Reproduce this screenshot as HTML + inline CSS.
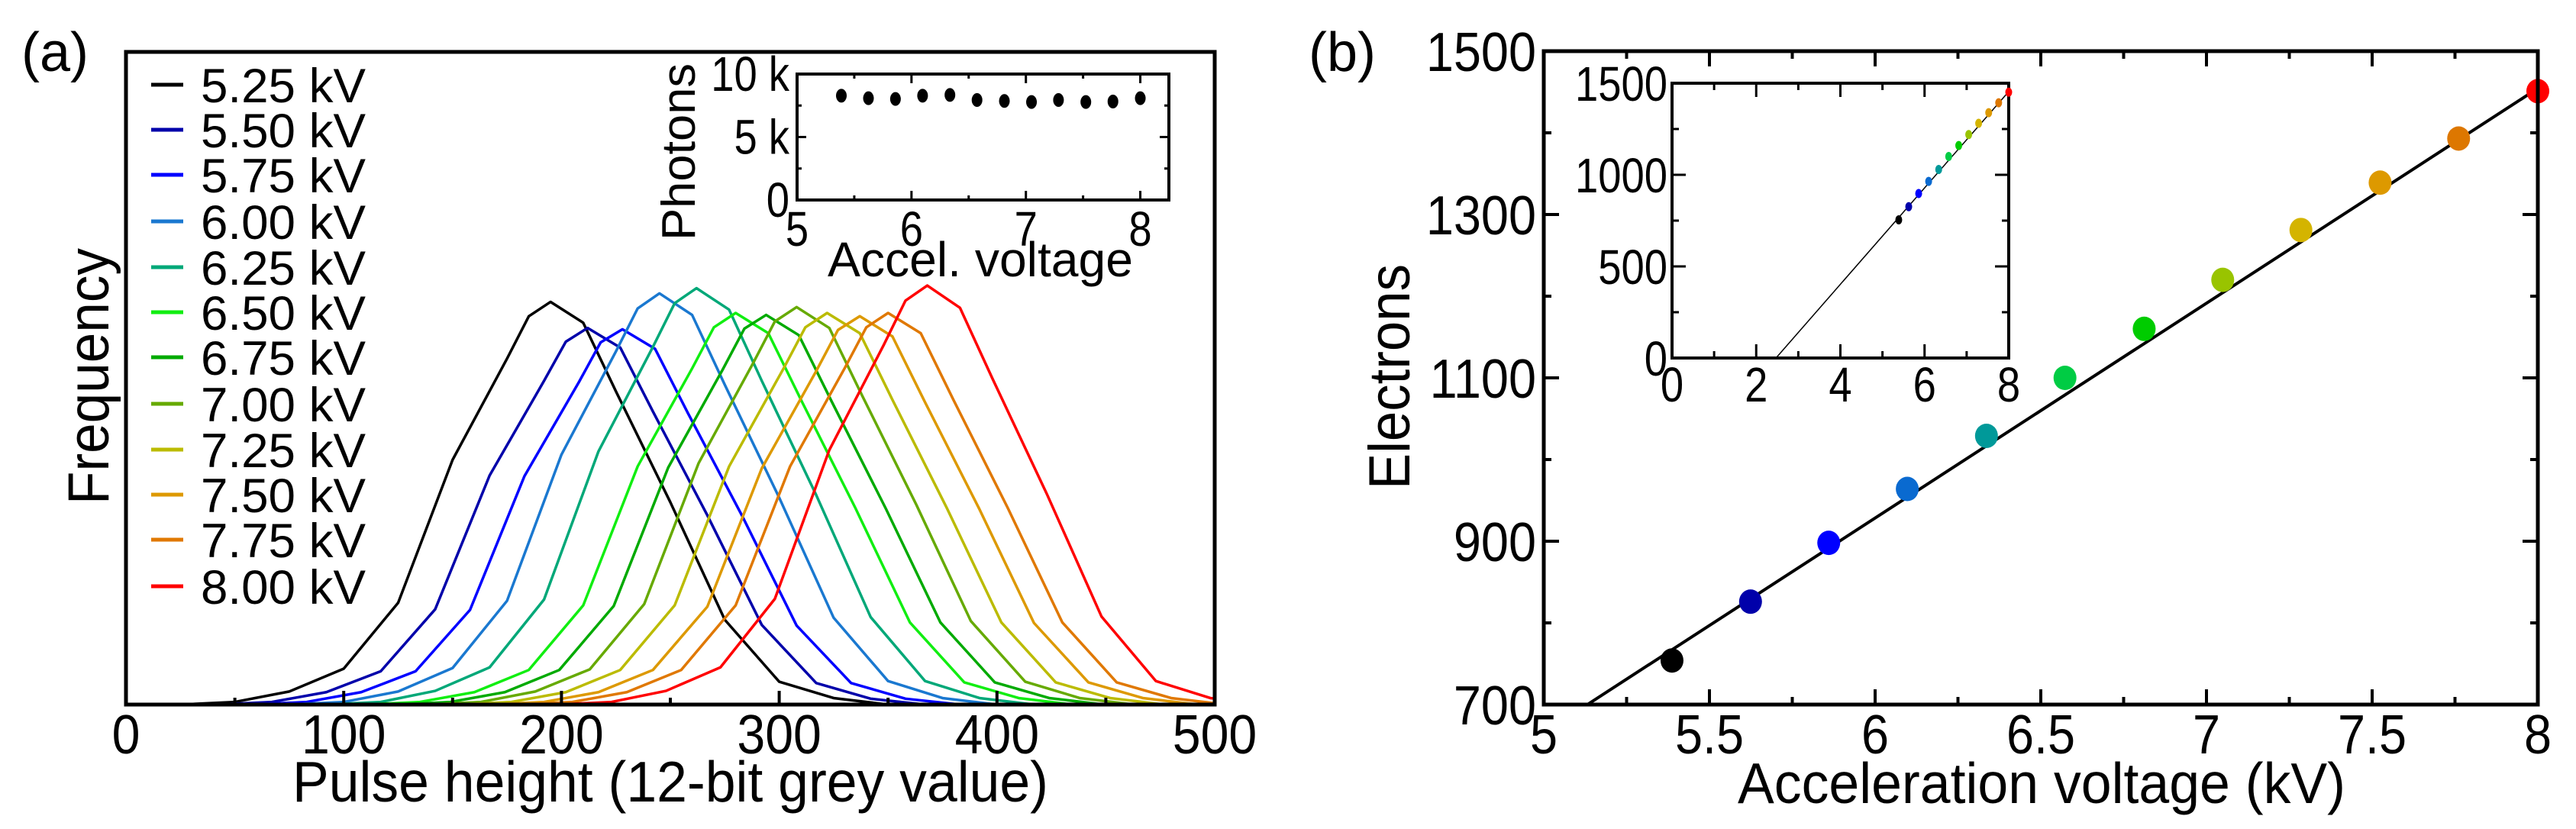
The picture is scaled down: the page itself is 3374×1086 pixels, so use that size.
<!DOCTYPE html>
<html><head><meta charset="utf-8"><style>
html,body{margin:0;padding:0;background:#fff;}
svg{display:block;font-family:"Liberation Sans",sans-serif;}
</style></head><body>
<svg id="fig" width="3374" height="1086" viewBox="0 0 3374 1086" xmlns="http://www.w3.org/2000/svg"></svg>
<script>
// ---------- Panel (a) data ----------
const voltLabels = ["5.25 kV","5.50 kV","5.75 kV","6.00 kV","6.25 kV","6.50 kV","6.75 kV","7.00 kV","7.25 kV","7.50 kV","7.75 kV","8.00 kV"];
const seriesColors = ["#000000","#0000aa","#0000ff","#1a78d0","#00a878","#11ee11","#00aa00","#66aa00","#bbbb00","#dd9900","#e07800","#ff0000"];
const histX1 = [25,50,75,100,125,150,175,185,195,210,225,250,275,300,325,350];
const histX2 = [42,67,92,117,142,167,192,202,212,227,242,267,292,317,342,367];
const histX3 = [58,83,108,133,158,183,208,218,228,243,258,283,308,333,358,383];
const histX4 = [75,100,125,150,175,200,225,235,245,260,275,300,325,350,375,400];
const histX5 = [92,117,142,167,192,217,242,252,262,277,292,317,342,367,392,417];
const histX6 = [110,135,160,185,210,235,260,270,280,295,310,335,360,385,410,435];
const histX7 = [124,149,174,199,224,249,274,284,294,309,324,349,374,399,424,449];
const histX8 = [138,163,188,213,238,263,288,298,308,323,338,363,388,413,438,463];
const histX9 = [152,177,202,227,252,277,302,312,322,337,352,377,402,427,452,477];
const histX10 = [167,192,217,242,267,292,317,327,337,352,367,392,417,442,467,492];
const histX11 = [180,205,230,255,280,305,330,340,350,365,380,405,430,455,480,505];
const histX12 = [198,223,248,273,298,323,348,358,368,383,398,423,448,473,498,523];
const histY1 = [0,.004,.02,.055,.156,.375,.53,.595,.617,.585,.48,.31,.13,.035,.01,0];
const histY2 = [0,.004,.019,.051,.146,.351,.496,.556,.577,.547,.449,.29,.122,.033,.009,0];
const histY3 = [0,.004,.019,.051,.145,.35,.494,.555,.575,.545,.447,.289,.121,.033,.009,0];
const histY4 = [0,.004,.02,.056,.159,.383,.541,.607,.63,.597,.49,.317,.133,.036,.01,0];
const histY5 = [0,.004,.021,.057,.161,.388,.548,.615,.638,.605,.496,.321,.134,.036,.01,0];
const histY6 = [0,.004,.019,.053,.152,.365,.515,.578,.60,.569,.467,.301,.126,.034,.01,0];
const histY7 = [0,.004,.019,.053,.151,.363,.513,.576,.597,.566,.465,.30,.126,.034,.01,0];
const histY8 = [0,.004,.02,.054,.154,.37,.523,.587,.609,.577,.474,.306,.128,.035,.01,0];
const histY9 = [0,.004,.019,.053,.152,.365,.515,.578,.60,.569,.467,.301,.126,.034,.01,0];
const histY10 = [0,.004,.019,.053,.15,.362,.511,.574,.595,.564,.463,.299,.125,.034,.01,0];
const histY11 = [0,.004,.019,.053,.152,.365,.515,.578,.60,.569,.467,.301,.126,.034,.01,0];
const histY12 = [0,.004,.021,.057,.162,.39,.551,.619,.642,.608,.499,.322,.135,.036,.01,0];
const xTicksA = [0,100,200,300,400,500];
// inset (a)
const accelV = [5.387,5.624,5.860,6.097,6.336,6.573,6.812,7.049,7.285,7.524,7.761,8.0];
const photonsK = [8.28,8.08,8.02,8.28,8.34,7.94,7.86,7.78,7.94,7.78,7.82,8.08];
const insetAXTicks = [5,6,7,8];
const insetAYTicks = [0,5,10];
const insetAYLabels = ["0","5 k","10 k"];
// ---------- Panel (b) data ----------
const electrons = [754,826,898,964,1029,1100,1160,1220,1281,1339,1393,1451];
const pointColors = ["#000000","#0000aa","#0000ff","#0a6ad0","#009999","#00cc44","#00cc00","#99c400","#d4b400","#dd9900","#dd7700","#ff0000"];
const fitSlope = [263];
const fitIntercept = [2.47];
const xTicksB = [5,5.5,6,6.5,7,7.5,8];
const xTickLabelsB = ["5","5.5","6","6.5","7","7.5","8"];
const yTicksB = [700,900,1100,1300,1500];
const insetBXTicks = [0,2,4,6,8];
const insetBYTicks = [0,500,1000,1500];

const NS="http://www.w3.org/2000/svg";
const svg=document.getElementById('fig');
function mk(tag,attrs,parent){const e=document.createElementNS(NS,tag);for(const k in attrs)e.setAttribute(k,attrs[k]);(parent||svg).appendChild(e);return e;}
function txt(s,x,y,size,anchor,sx,parent){const t=mk('text',{x:0,y:0,'font-size':size,'text-anchor':anchor||'middle',transform:`translate(${x},${y}) scale(${sx||1},1)`},parent);t.textContent=s;return t;}

// ===== Panel (a) =====
const A={x0:165,x1:1591,y0:68,y1:923};
const ax=v=>A.x0+(v-0)/500*(A.x1-A.x0);
const ay=f=>A.y1-f*(A.y1-A.y0);
const cpA=mk('clipPath',{id:'clipA'});
mk('rect',{x:A.x0,y:A.y0,width:A.x1-A.x0,height:A.y1-A.y0},cpA);
const gCurves=mk('g',{'clip-path':'url(#clipA)'});


const hx=[histX1,histX2,histX3,histX4,histX5,histX6,histX7,histX8,histX9,histX10,histX11,histX12];
const hy=[histY1,histY2,histY3,histY4,histY5,histY6,histY7,histY8,histY9,histY10,histY11,histY12];
for(let i=0;i<12;i++){
  let pts=[[ax(0),ay(0)]];
  for(let j=0;j<hx[i].length;j++)pts.push([ax(hx[i][j]),ay(hy[i][j])]);
  pts.push([ax(500),ay(0)]);
  const p=mk('polyline',{points:pts.map(q=>q.join(',')).join(' '),fill:'none',stroke:seriesColors[i],'stroke-width':3.5,'stroke-linejoin':'round'},gCurves);
  
  
}
const frA=mk('rect',{x:A.x0,y:A.y0,width:A.x1-A.x0,height:A.y1-A.y0,fill:'none',stroke:'#000','stroke-width':5});


for(let v=0;v<=500;v+=50){const L=(v%100===0)?18:9;mk('line',{x1:ax(v),x2:ax(v),y1:A.y1,y2:A.y1-L,stroke:'#000','stroke-width':4});}
for(const v of xTicksA){const t=txt(String(v),ax(v),987,72,'middle',0.92);}
let t=mk('text',{x:383,y:1050,'font-size':75,textLength:990,lengthAdjust:'spacingAndGlyphs'});t.textContent='Pulse height (12-bit grey value)';

t=mk('text',{x:0,y:0,'font-size':76,transform:'translate(142,661) rotate(-90)',textLength:336,lengthAdjust:'spacingAndGlyphs'});t.textContent='Frequency';

t=mk('text',{x:28,y:93,'font-size':72});t.textContent='(a)';

// legend
const legYs=[111,170,229,290,350,409,468,529,589,648,707,768];
for(let i=0;i<12;i++){
  const g=mk('g',{});
  
  
  mk('line',{x1:198,x2:240,y1:legYs[i],y2:legYs[i],stroke:seriesColors[i],'stroke-width':5},g);
  const tt=mk('text',{x:263,y:legYs[i]+23,'font-size':63,textLength:216,lengthAdjust:'spacingAndGlyphs'},g);tt.textContent=voltLabels[i];
}
// inset a
const IA={x0:1044,x1:1531,y0:97,y1:262};
const iax=v=>IA.x0+(v-5)/3.25*(IA.x1-IA.x0);
const iay=v=>IA.y1-v/10*(IA.y1-IA.y0);
const frIA=mk('rect',{x:IA.x0,y:IA.y0,width:IA.x1-IA.x0,height:IA.y1-IA.y0,fill:'#fff',stroke:'#000','stroke-width':4});


for(let v=5;v<=8;v+=0.5){const L=(v%1===0)?12:6;mk('line',{x1:iax(v),x2:iax(v),y1:IA.y1,y2:IA.y1-L,stroke:'#000','stroke-width':3});mk('line',{x1:iax(v),x2:iax(v),y1:IA.y0,y2:IA.y0+L,stroke:'#000','stroke-width':3});}
for(let v=0;v<=10;v+=2.5){const L=(v%5===0)?12:6;mk('line',{x1:IA.x0,x2:IA.x0+L,y1:iay(v),y2:iay(v),stroke:'#000','stroke-width':3});mk('line',{x1:IA.x1,x2:IA.x1-L,y1:iay(v),y2:iay(v),stroke:'#000','stroke-width':3});}
for(let i=0;i<accelV.length;i++){const c=mk('ellipse',{cx:iax(accelV[i]),cy:iay(photonsK[i]),rx:7,ry:9,fill:'#000'});}
for(const v of insetAXTicks){t=txt(String(v),iax(v),322,64,'middle',0.85);}
for(let i=0;i<insetAYTicks.length;i++){t=txt(insetAYLabels[i],1034,iay(insetAYTicks[i])+22,64,'end',0.85);}
t=mk('text',{x:0,y:0,'font-size':62,transform:'translate(910,315) rotate(-90)',textLength:232,lengthAdjust:'spacingAndGlyphs'});t.textContent='Photons';

t=mk('text',{x:1084,y:362,'font-size':64,textLength:400,lengthAdjust:'spacingAndGlyphs'});t.textContent='Accel. voltage';


// ===== Panel (b) =====
const B={x0:2022,x1:3324,y0:67,y1:923};
const bx=v=>B.x0+(v-5)/3*(B.x1-B.x0);
const by=v=>B.y1-(v-700)/800*(B.y1-B.y0);
const cpB=mk('clipPath',{id:'clipB'});
mk('rect',{x:B.x0,y:B.y0,width:B.x1-B.x0,height:B.y1-B.y0},cpB);
const gB=mk('g',{'clip-path':'url(#clipB)'});
const fx0=fitIntercept[0]+700/fitSlope[0];
const fit=mk('line',{x1:bx(fx0),y1:by(700),x2:bx(8.1),y2:by(fitSlope[0]*(8.1-fitIntercept[0])),stroke:'#000','stroke-width':4},gB);

for(let i=0;i<electrons.length;i++){const c=mk('ellipse',{cx:bx(accelV[i]),cy:by(electrons[i]),rx:15,ry:16,fill:pointColors[i]},svg);}
const frB=mk('rect',{x:B.x0,y:B.y0,width:B.x1-B.x0,height:B.y1-B.y0,fill:'none',stroke:'#000','stroke-width':5});

for(let v=5;v<=8.001;v+=0.25){const L=(Math.abs(v*2-Math.round(v*2))<1e-6)?20:10;mk('line',{x1:bx(v),x2:bx(v),y1:B.y1,y2:B.y1-L,stroke:'#000','stroke-width':4});mk('line',{x1:bx(v),x2:bx(v),y1:B.y0,y2:B.y0+L,stroke:'#000','stroke-width':4});}
for(let v=700;v<=1500;v+=100){const L=(v%200===100)?20:10;mk('line',{x1:B.x0,x2:B.x0+L,y1:by(v),y2:by(v),stroke:'#000','stroke-width':4});mk('line',{x1:B.x1,x2:B.x1-L,y1:by(v),y2:by(v),stroke:'#000','stroke-width':4});}
for(let i=0;i<xTicksB.length;i++){t=txt(xTickLabelsB[i],bx(xTicksB[i]),987,72,'middle',0.9);}
for(const v of yTicksB){t=txt(String(v),2012,by(v)+26,72,'end',0.9);}
t=mk('text',{x:2276,y:1052,'font-size':75,textLength:796,lengthAdjust:'spacingAndGlyphs'});t.textContent='Acceleration voltage (kV)';

t=mk('text',{x:0,y:0,'font-size':76,transform:'translate(1846,641) rotate(-90)',textLength:295,lengthAdjust:'spacingAndGlyphs'});t.textContent='Electrons';

t=mk('text',{x:1714,y:93,'font-size':72});t.textContent='(b)';

// inset b
const IB={x0:2190,x1:2631,y0:109,y1:469};
const ibx=v=>IB.x0+v/8*(IB.x1-IB.x0);
const iby=v=>IB.y1-v/1500*(IB.y1-IB.y0);
const frIB=mk('rect',{x:IB.x0,y:IB.y0,width:IB.x1-IB.x0,height:IB.y1-IB.y0,fill:'#fff',stroke:'#000','stroke-width':4});

const il=mk('line',{x1:ibx(fitIntercept[0]),y1:iby(0),x2:ibx(8),y2:iby(fitSlope[0]*(8-fitIntercept[0])),stroke:'#000','stroke-width':1.5});

for(let v=0;v<=8;v+=1){const L=(v%2===0)?18:9;mk('line',{x1:ibx(v),x2:ibx(v),y1:IB.y1,y2:IB.y1-L,stroke:'#000','stroke-width':3});mk('line',{x1:ibx(v),x2:ibx(v),y1:IB.y0,y2:IB.y0+L,stroke:'#000','stroke-width':3});}
for(let v=0;v<=1500;v+=250){const L=(v%500===0)?18:9;mk('line',{x1:IB.x0,x2:IB.x0+L,y1:iby(v),y2:iby(v),stroke:'#000','stroke-width':3});mk('line',{x1:IB.x1,x2:IB.x1-L,y1:iby(v),y2:iby(v),stroke:'#000','stroke-width':3});}
for(let i=0;i<electrons.length;i++){const c=mk('ellipse',{cx:ibx(accelV[i]),cy:iby(electrons[i]),rx:4.5,ry:6,fill:pointColors[i]});}
for(const v of insetBXTicks){t=txt(String(v),ibx(v),526,64,'middle',0.85);}
for(const v of insetBYTicks){t=txt(String(v),2184,iby(v)+23,64,'end',0.85);}
</script>
</body></html>
